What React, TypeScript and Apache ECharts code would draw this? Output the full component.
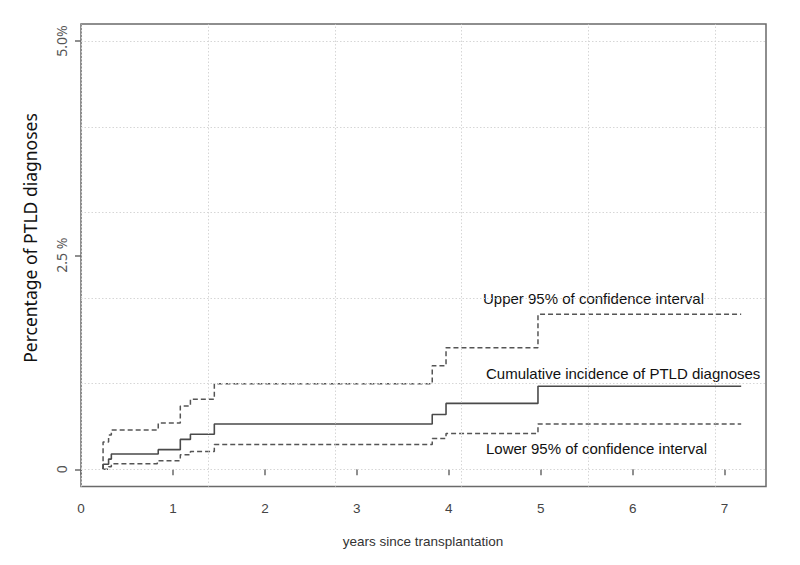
import React, { useEffect, useRef } from "react";
import * as echarts from "echarts";

// Cumulative incidence (step function): [years, percent]
const cumTimes = [0.24, 0.24, 0.3, 0.33, 0.84, 1.08, 1.19, 1.45, 3.82, 3.97, 4.97, 7.18];
const cumValues = [0, 0.06, 0.12, 0.18, 0.23, 0.35, 0.41, 0.53, 0.64, 0.77, 0.97, 0.97];

const upperTimes = [0.24, 0.24, 0.3, 0.33, 0.84, 1.08, 1.19, 1.45, 3.82, 3.97, 4.97, 7.18];
const upperValues = [0, 0.32, 0.4, 0.46, 0.54, 0.74, 0.82, 1.0, 1.21, 1.42, 1.81, 1.81];

const lowerTimes = [0.24, 0.3, 0.33, 0.83, 1.08, 1.19, 1.45, 3.82, 3.97, 4.97, 7.18];
const lowerValues = [0, 0.03, 0.066, 0.1, 0.17, 0.21, 0.29, 0.36, 0.42, 0.53, 0.53];

const xTickValues = [0, 1, 2, 3, 4, 5, 6, 7];
const yTickValues = [0, 2.5, 5];
const yTickLabels = ["0", "2.5 %", "5.0%"];
const hGridValues = [0, 1, 2, 3, 4, 5];
const vGridValues = [0, 1.38, 2.76, 4.14, 5.52, 6.9];

const zip = (t: number[], v: number[]) => t.map((x, i) => [x, v[i]]);

export default function App() {
  const ref = useRef<HTMLDivElement>(null);
  useEffect(() => {
    if (!ref.current) return;
    const chart = echarts.init(ref.current, null, { renderer: "svg" });
    const gridLine = { color: "#d6d6d6", width: 1, type: [1.5, 2] as any };
    chart.setOption({
      animation: false,
      backgroundColor: "#ffffff",
      grid: {
        left: 81,
        top: 24,
        right: 34,
        bottom: 78.5,
        show: true,
        borderColor: "#6a6a6a",
        borderWidth: 1.5,
        backgroundColor: "transparent",
      },
      xAxis: {
        type: "value",
        min: 0,
        max: 7.45,
        interval: 1,
        axisLine: { show: false },
        splitLine: { show: false },
        axisTick: {
          show: true,
          length: 6,
          customValues: xTickValues,
          lineStyle: { color: "#6a6a6a", width: 1.5 },
        },
        axisLabel: {
          customValues: xTickValues,
          margin: 15,
          fontFamily: "Liberation Sans",
          fontSize: 13.5,
          color: "#444444",
        },
      },
      yAxis: {
        type: "value",
        min: -0.2,
        max: 5.2,
        axisLine: { show: false },
        splitLine: { show: false },
        axisTick: {
          show: true,
          length: 6,
          customValues: yTickValues,
          lineStyle: { color: "#6a6a6a", width: 1.5 },
        },
        axisLabel: {
          customValues: yTickValues,
          rotate: 90,
          margin: 13,
          fontFamily: "Noto Sans",
          fontSize: 14,
          color: "#555555",
          formatter: (v: number) => {
            const i = yTickValues.indexOf(v);
            return i >= 0 ? yTickLabels[i] : "";
          },
        },
      },
      series: [
        {
          type: "line",
          data: [],
          silent: true,
          markLine: {
            silent: true,
            symbol: "none",
            label: { show: false },
            lineStyle: gridLine,
            data: [
              ...hGridValues.map((v) => ({ yAxis: v })),
              ...vGridValues.map((v) => ({ xAxis: v })),
            ],
          },
        },
        {
          name: "Upper 95%",
          type: "line",
          step: "end",
          showSymbol: false,
          data: zip(upperTimes, upperValues),
          lineStyle: { color: "#555555", width: 1.5, type: [5, 3] },
        },
        {
          name: "Cumulative incidence",
          type: "line",
          step: "end",
          showSymbol: false,
          data: zip(cumTimes, cumValues),
          lineStyle: { color: "#4a4a4a", width: 1.6, type: "solid" },
        },
        {
          name: "Lower 95%",
          type: "line",
          step: "end",
          showSymbol: false,
          data: zip(lowerTimes, lowerValues),
          lineStyle: { color: "#555555", width: 1.5, type: [5, 3] },
        },
      ],
      graphic: [
        {
          type: "text",
          x: 30,
          y: 238,
          rotation: Math.PI / 2,
          style: {
            text: "Percentage of PTLD diagnoses",
            fontFamily: "Noto Sans",
            fontSize: 17.5,
            fill: "#111111",
            align: "center",
            verticalAlign: "middle",
          },
        },
        {
          type: "text",
          x: 423,
          y: 541,
          style: {
            text: "years since transplantation",
            fontFamily: "Liberation Sans",
            fontSize: 13.5,
            fill: "#333333",
            align: "center",
            verticalAlign: "middle",
          },
        },
        {
          type: "text",
          x: 483,
          y: 298,
          style: {
            text: "Upper 95% of confidence interval",
            fontFamily: "Liberation Sans",
            fontSize: 15,
            fill: "#111111",
            align: "left",
            verticalAlign: "middle",
          },
        },
        {
          type: "text",
          x: 486,
          y: 373,
          style: {
            text: "Cumulative incidence of PTLD diagnoses",
            fontFamily: "Liberation Sans",
            fontSize: 15,
            fill: "#111111",
            align: "left",
            verticalAlign: "middle",
          },
        },
        {
          type: "text",
          x: 486,
          y: 448,
          style: {
            text: "Lower 95% of confidence interval",
            fontFamily: "Liberation Sans",
            fontSize: 15,
            fill: "#111111",
            align: "left",
            verticalAlign: "middle",
          },
        },
      ],
    });
    return () => chart.dispose();
  }, []);
  return <div ref={ref} style={{ width: 800, height: 565, position: "absolute", left: 0, top: 0 }} />;
}
